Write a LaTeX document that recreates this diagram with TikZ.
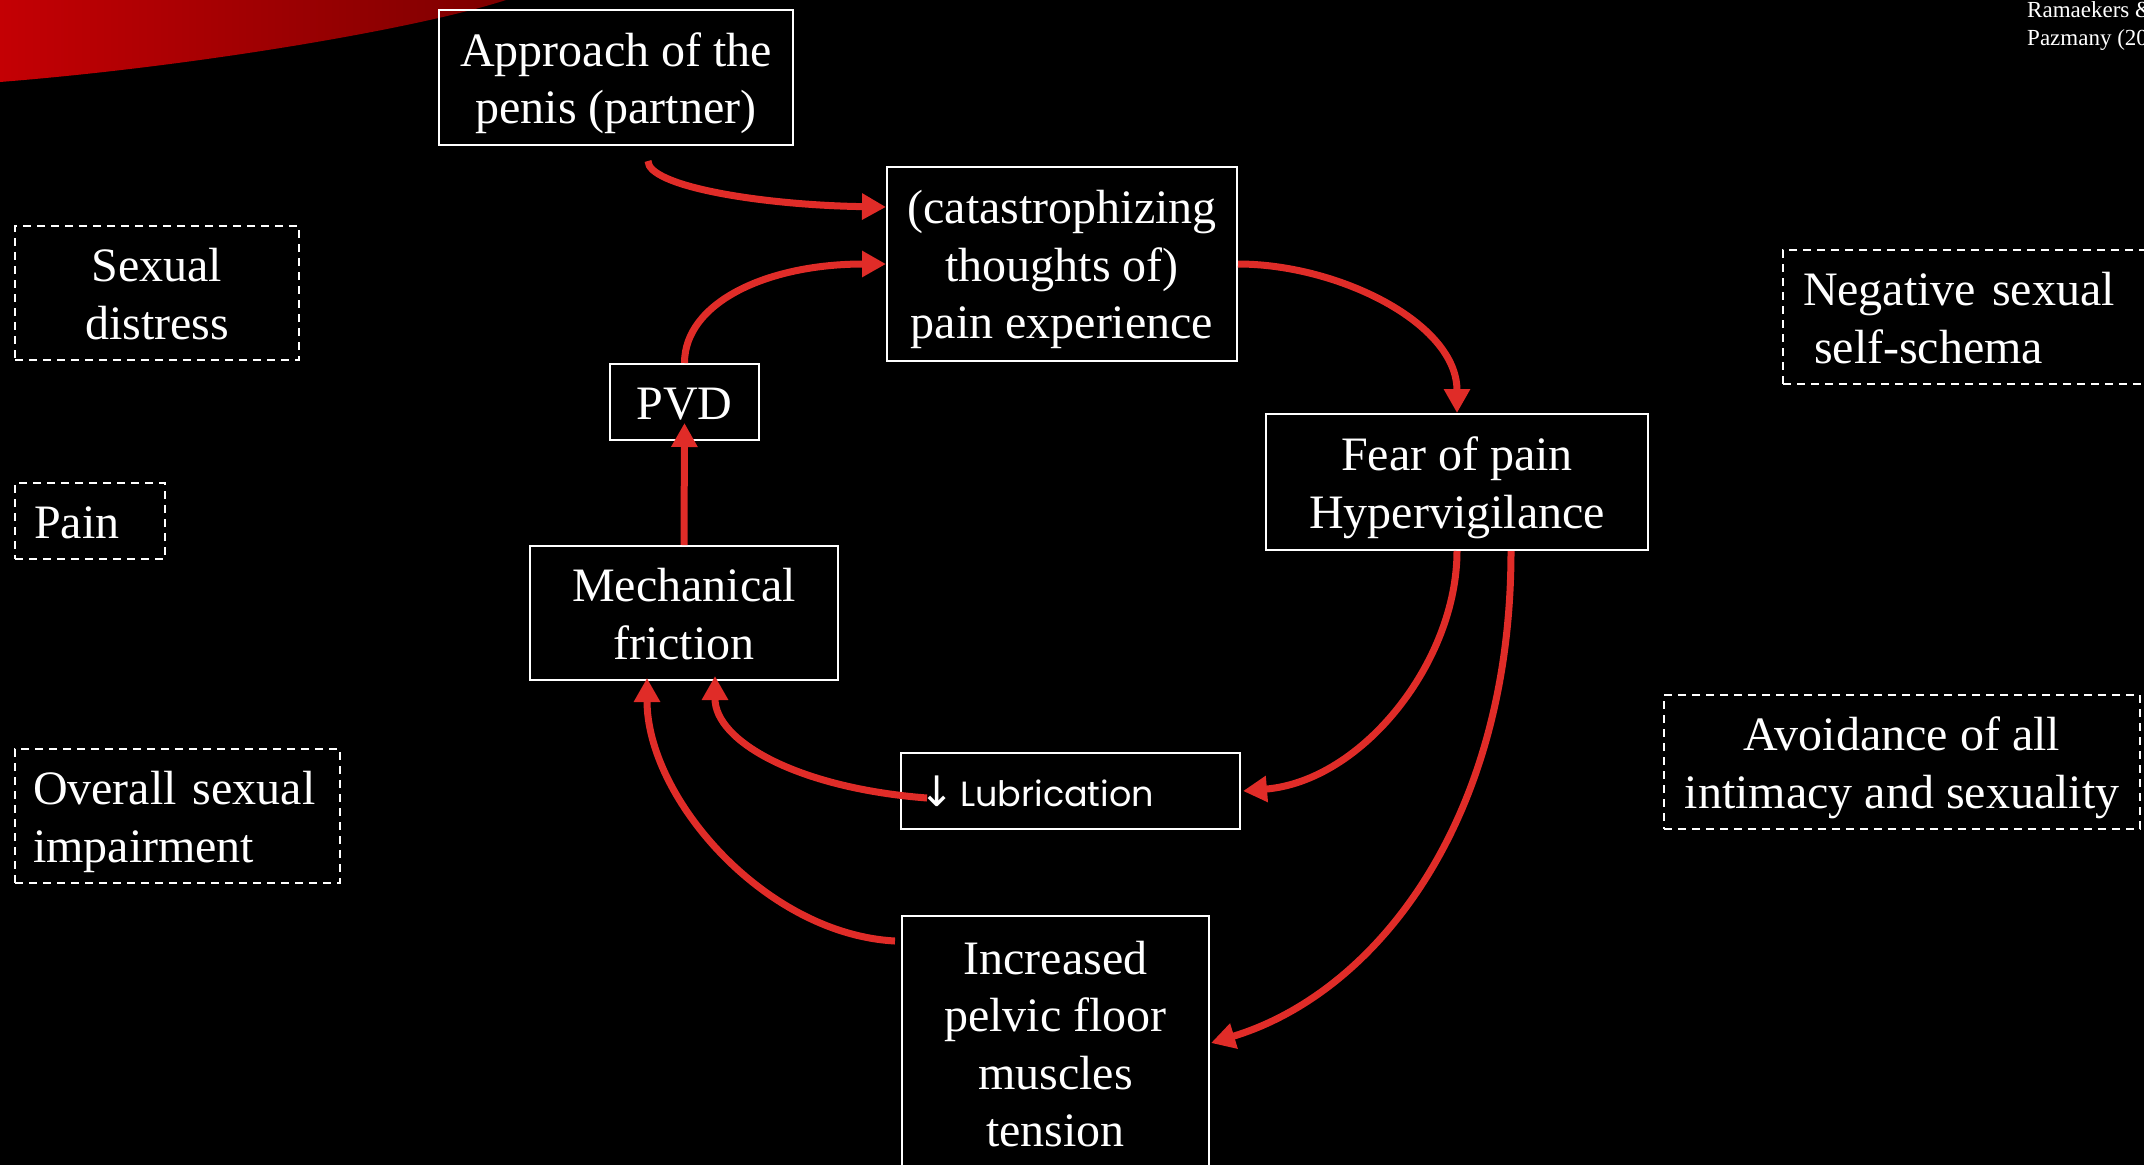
\documentclass[tikz,border=0pt]{standalone}
\usepackage{fontspec}
\setmainfont{Liberation Serif}
\newfontfamily\lubfont{Poppins}
\newfontfamily\symfont{DejaVu Sans}
\usetikzlibrary{arrows.meta,calc}
\definecolor{arrred}{RGB}{224,44,40}
\definecolor{swL}{RGB}{196,0,4}
\definecolor{swM}{RGB}{170,0,2}
\definecolor{swR}{RGB}{125,0,0}
\newcommand{\bigtxt}{\fontsize{48}{57.5}\selectfont}
\newcommand{\ps}{\rule[-10.4pt]{0pt}{55.4pt}}
\begin{document}
\begin{tikzpicture}[x=1pt,y=-1pt,
  box/.style={draw=white, line width=2pt, text=white, inner sep=0pt, align=center, font=\bigtxt},
  dbox/.style={box, dash pattern=on 8pt off 6pt},
  arr/.style={draw=arrred, line width=7pt, -{Triangle[length=24pt,width=25pt]}}]
\fill[black] (0,0) rectangle (2144,1165);
\useasboundingbox (0,0) rectangle (2144,1165);
% red swoosh
\shade[left color=swL, middle color=swM, right color=swR] (0,0) -- (506,0) .. controls (420,28) and (200,66) .. (0,82) -- cycle;
% reference text
\node[anchor=north west, inner sep=0pt, text=white, align=left, font=\fontsize{23}{28}\selectfont] (ref) at (2027,1) {Ramaekers \&\\Pazmany (20};
% main nodes
\node[box, minimum width=354, minimum height=135] (app) at (616,77.5) {\ps Approach of the\\penis (partner)\ps};
\node[box, minimum width=350, minimum height=194] (cat) at (1062,264) {\ps(catastrophizing\\thoughts of)\\pain experience\ps};
\node[box, minimum width=382, minimum height=136] (fear) at (1457,482) {\ps Fear of pain\\Hypervigilance\ps};
\node[box, minimum width=149, minimum height=76] (pvd) at (684.5,402) {\ps PVD};
\node[box, minimum width=308, minimum height=134] (mech) at (684,613) {\ps Mechanical\\friction\ps};
\node[box, align=left, text width=303, inner xsep=18pt, minimum height=76, font=\lubfont\fontsize{35}{40}\selectfont] (lub) at (1070.5,791) {{\symfont\fontsize{42}{44}\selectfont ↓}\hspace{6pt}Lubrication};
\node[box, minimum width=307, minimum height=254] (pel) at (1055.5,1043) {\ps Increased\\pelvic floor\\muscles\\tension\ps};
% dashed side nodes
\node[dbox, minimum width=284, minimum height=134] (dist) at (157,293) {\ps Sexual\\distress\ps};
\node[dbox, align=left, text width=112, inner xsep=19pt, minimum height=76] (pain) at (90,521) {\ps Pain};
\node[dbox, align=left, text width=289, inner xsep=18pt, minimum height=134] (imp) at (177.5,816) {\ps Overall sexual\\impairment\ps};
\node[dbox, align=left, text width=327, inner xsep=20pt, minimum height=134] (neg) at (1966.5,317) {\ps Negative sexual\\\hspace*{11pt}self-schema\ps};
\node[dbox, minimum width=476, minimum height=134] (avo) at (1902,762) {\ps Avoidance of all\\intimacy and sexuality\ps};
% connectors
\draw[arr] ([xshift=32pt,yshift=-15pt]app.south) .. controls +(0,25) and +(-127,-2) .. ([yshift=57pt]cat.west);
\draw[arr] (pvd.north) .. controls +(0,-60) and +(-120,0) .. (cat.west);
\draw[arr] (cat.east) .. controls +(100,0) and +(0,-90) .. (fear.north);
\draw[arr] (mech.north) -- ([yshift=18pt]pvd.south);
\draw[arr] (fear.south) .. controls +(0,110) and +(120,-10) .. ([xshift=2pt]lub.east);
\draw[arr] ([xshift=54pt]fear.south) .. controls +(0,270) and +(165,-50) .. ([xshift=1pt]pel.east);
\draw[arr] ([xshift=27pt,yshift=-7pt]lub.west) .. controls +(-130,-10) and +(0,65) .. ([xshift=31pt,yshift=5pt]mech.south);
\draw[arr] ([xshift=-6pt,yshift=-26pt]pel.north west) .. controls +(-130,-7) and +(0,120) .. ([xshift=-37pt,yshift=3pt]mech.south);
\end{tikzpicture}
\end{document}
